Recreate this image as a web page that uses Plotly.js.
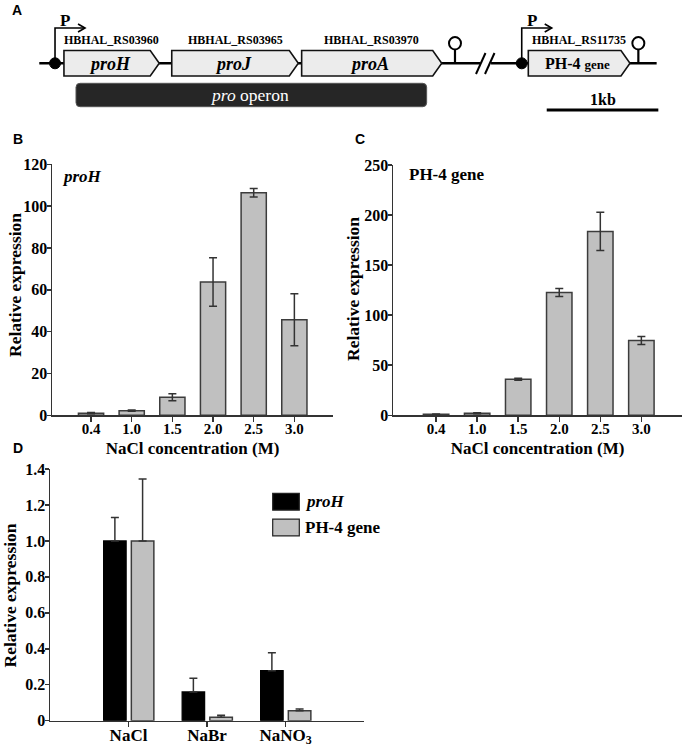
<!DOCTYPE html>
<html><head><meta charset="utf-8">
<script src="https://cdn.plot.ly/plotly-3.0.1.min.js"></script>
<style>html,body{margin:0;padding:0;background:#fff}#chart{width:686px;height:747px}</style>
</head><body><div id="chart"></div>
<script>
// ---------- Data ----------
// Panels B & C: NaCl series
const naclConc = ['0.4', '1.0', '1.5', '2.0', '2.5', '3.0'];
const proHExpr = [1.0, 2.2, 8.6, 63.7, 106.4, 45.7];
const proHErr  = [0.3, 0.3, 1.7, 11.6, 2.0, 12.4];
const ph4Expr  = [1.0, 2.0, 36.0, 122.7, 183.7, 74.7];
const ph4Err   = [0.3, 0.5, 1.0, 4.0, 19.0, 4.0];
// Panel D: different salts
const salts       = ['NaCl', 'NaBr', 'NaNO<sub>3</sub>'];
const seriesNames = ['<i>proH</i>', 'PH-4 gene'];
const saltProH    = [1.0, 0.16, 0.278];
const saltProHErr = [0.13, 0.076, 0.10];
const saltPH4     = [1.0, 0.019, 0.056];
const saltPH4Err  = [0.344, 0.011, 0.009];
const yTitle = 'Relative expression';
const xTitle = 'NaCl concentration (M)';
// Panel A: gene map (kb along the schematic)
const geneNames  = ['<i>proH</i>', '<i>proJ</i>', '<i>proA</i>', 'PH-4 <span style="font-size:13px">gene</span>'];
const geneIds    = ['HBHAL_RS03960', 'HBHAL_RS03965', 'HBHAL_RS03970', 'HBHAL_RS11735'];
const geneStart  = [0.573, 1.539, 2.703, 4.734];
const geneEnd    = [1.427, 2.673, 3.958, 5.645];
const promoters  = [0.493, 4.675];
const terminators = [4.077, 5.720];
const backbone   = [[0.352, 4.301], [4.400, 5.884]];
const operonSpan = [0.681, 3.823];
const scaleBarKb = 1;
const scaleBarStart = 4.899;

// ---------- Helpers ----------
const PX_PER_KB = 111.6;
const px = v => v / PX_PER_KB;
const SERIF = 'Liberation Serif';
const SANS = 'Liberation Sans';
const W = 686, H = 747;
const fx = v => v / W;
const fy = v => 1 - v / H;

// ---------- Panel A shapes ----------
const TRACK_Y = 63.3, BOX_TOP = 50.5, BOX_BOT = 76, TIP = px(9);
const ARROW_Y = 28, ARROW_LEN = px(30);
const shapes = [];
const A = (o) => Object.assign({xref: 'x4', yref: 'y4'}, o);

backbone.forEach(([a, b]) => shapes.push(A({type: 'line', x0: a, x1: b, y0: TRACK_Y, y1: TRACK_Y, line: {color: '#000', width: 2.5}})));
[backbone[0][1] - px(4), backbone[0][1] + px(5)].forEach(x =>
  shapes.push(A({type: 'line', x0: x, y0: 74, x1: x + px(9.5), y1: 53, line: {color: '#000', width: 2}})));

geneStart.forEach((s, i) => {
  const e = geneEnd[i];
  shapes.push(A({type: 'path',
    path: `M${s},${BOX_TOP} L${e - TIP},${BOX_TOP} L${e},${TRACK_Y} L${e - TIP},${BOX_BOT} L${s},${BOX_BOT} Z`,
    fillcolor: '#ececec', line: {color: '#111', width: 1.6}}));
});

promoters.forEach(p => {
  shapes.push(A({type: 'path', path: `M${p},${TRACK_Y} L${p},${ARROW_Y} L${p + ARROW_LEN},${ARROW_Y}`,
    fillcolor: 'rgba(0,0,0,0)', line: {color: '#000', width: 1.6}}));
  shapes.push(A({type: 'path', path: `M${p + ARROW_LEN - px(7)},${ARROW_Y - 4} L${p + ARROW_LEN},${ARROW_Y} L${p + ARROW_LEN - px(7)},${ARROW_Y + 4}`,
    fillcolor: 'rgba(0,0,0,0)', line: {color: '#000', width: 1.6}}));
  shapes.push(A({type: 'circle', x0: p - px(5.5), x1: p + px(5.5), y0: TRACK_Y - 5.5, y1: TRACK_Y + 5.5,
    fillcolor: '#000', line: {color: '#000', width: 1}}));
});

terminators.forEach(t => {
  shapes.push(A({type: 'line', x0: t, x1: t, y0: TRACK_Y, y1: 49.5, line: {color: '#000', width: 2.2}}));
  shapes.push(A({type: 'circle', x0: t - px(6), x1: t + px(6), y0: 37, y1: 49.5, fillcolor: '#fff', line: {color: '#000', width: 2}}));
});

(function () {
  const x0 = operonSpan[0], x1 = operonSpan[1], y0 = 83.3, y1 = 106.7, r = 4, rx = px(4);
  shapes.push(A({type: 'path',
    path: `M${x0 + rx},${y0} L${x1 - rx},${y0} Q${x1},${y0} ${x1},${y0 + r} L${x1},${y1 - r} Q${x1},${y1} ${x1 - rx},${y1} L${x0 + rx},${y1} Q${x0},${y1} ${x0},${y1 - r} L${x0},${y0 + r} Q${x0},${y0} ${x0 + rx},${y0} Z`,
    fillcolor: '#262626', line: {color: '#555', width: 1}}));
})();

shapes.push(A({type: 'line', x0: scaleBarStart, x1: scaleBarStart + scaleBarKb, y0: 110, y1: 110, line: {color: '#000', width: 3}}));

// ---------- Panel D legend (drawn boxes) ----------
const legendColors = ['#000000', '#c0c0c0'];
const legendRows = [501.7, 527.5];
legendRows.forEach((yc, i) => {
  shapes.push({type: 'rect', xref: 'paper', yref: 'paper', x0: fx(272.7), x1: fx(299.3), y0: fy(yc - 8.4), y1: fy(yc + 8.4),
    fillcolor: legendColors[i], line: {color: '#222', width: 1.2}});
});

// ---------- Annotations ----------
const annotations = [];
const letter = (t, x, y) => annotations.push({text: t, xref: 'paper', yref: 'paper', x: fx(x), y: fy(y), showarrow: false,
  xanchor: 'center', yanchor: 'middle', font: {family: SANS, size: 14, color: '#000', weight: 'bold'}});
letter('A', 17, 10.5); letter('B', 18, 139); letter('C', 360, 139); letter('D', 18, 448);

promoters.forEach(p => annotations.push({text: 'P', xref: 'x4', yref: 'y4', x: p + px(10), y: 20, showarrow: false,
  font: {family: SERIF, size: 17, color: '#000', weight: 'bold'}}));
geneIds.forEach((g, i) => annotations.push({text: g, xref: 'x4', yref: 'y4', x: (geneStart[i] + geneEnd[i]) / 2, y: 39.5,
  showarrow: false, font: {family: SERIF, size: 12, color: '#000', weight: 'bold'}}));
geneNames.forEach((g, i) => annotations.push({text: g, xref: 'x4', yref: 'y4', x: (geneStart[i] + geneEnd[i]) / 2 - px(2), y: TRACK_Y + 0.5,
  showarrow: false, font: {family: SERIF, size: i === 3 ? 16 : 18, color: '#000', weight: 'bold'}}));
annotations.push({text: '<i>pro</i> operon', xref: 'x4', yref: 'y4', x: (operonSpan[0] + operonSpan[1]) / 2 - px(2), y: 95,
  showarrow: false, font: {family: SERIF, size: 17.5, color: '#fff'}});
annotations.push({text: scaleBarKb + 'kb', xref: 'x4', yref: 'y4', x: scaleBarStart + scaleBarKb / 2, y: 99,
  showarrow: false, font: {family: SERIF, size: 16, color: '#000', weight: 'bold'}});

annotations.push({text: '<i>proH</i>', xref: 'paper', yref: 'paper', x: fx(60), y: fy(176), xanchor: 'left', yanchor: 'middle',
  showarrow: false, font: {family: SERIF, size: 17, color: '#000', weight: 'bold'}});
annotations.push({text: 'PH-4 gene', xref: 'paper', yref: 'paper', x: fx(407), y: fy(174), xanchor: 'left', yanchor: 'middle',
  showarrow: false, font: {family: SERIF, size: 17, color: '#000', weight: 'bold'}});
seriesNames.forEach((n, i) => annotations.push({text: n, xref: 'paper', yref: 'paper', x: fx(303), y: fy(legendRows[i]),
  xanchor: 'left', yanchor: 'middle', showarrow: false, font: {family: SERIF, size: 17, color: '#000', weight: 'bold'}}));

// y-axis titles (placed as rotated text beside each axis)
const titleFont = {family: SERIF, size: 17.5, color: '#000', weight: 'bold'};
[[15, 285], [353, 289], [9.5, 596]].forEach(([x, y]) => annotations.push({text: yTitle, textangle: -90,
  xref: 'paper', yref: 'paper', x: fx(x), y: fy(y), xanchor: 'center', yanchor: 'middle', showarrow: false, font: titleFont}));

// ---------- Traces ----------
const barFill = '#c0c0c0', barLine = '#3c3c3c';
const errStyle = {color: '#333', thickness: 1.5, width: 4};
const traces = [
  {type: 'bar', x: naclConc, y: proHExpr, xaxis: 'x', yaxis: 'y', showlegend: false,
   marker: {color: barFill, line: {color: barLine, width: 1.5}},
   error_y: Object.assign({type: 'data', array: proHErr, visible: true}, errStyle)},
  {type: 'bar', x: naclConc, y: ph4Expr, xaxis: 'x2', yaxis: 'y2', showlegend: false,
   marker: {color: barFill, line: {color: barLine, width: 1.5}},
   error_y: Object.assign({type: 'data', array: ph4Err, visible: true}, errStyle)},
  {type: 'bar', name: seriesNames[0], x: salts, y: saltProH, xaxis: 'x3', yaxis: 'y3', showlegend: false,
   width: 0.287, offset: -0.317,
   marker: {color: legendColors[0], line: {color: '#000', width: 1.2}},
   error_y: Object.assign({type: 'data', symmetric: false, array: saltProHErr, arrayminus: saltProHErr.map(() => 0), visible: true}, errStyle)},
  {type: 'bar', name: seriesNames[1], x: salts, y: saltPH4, xaxis: 'x3', yaxis: 'y3', showlegend: false,
   width: 0.287, offset: 0.036,
   marker: {color: legendColors[1], line: {color: barLine, width: 1.5}},
   error_y: Object.assign({type: 'data', symmetric: false, array: saltPH4Err, arrayminus: saltPH4Err.map(() => 0), visible: true}, errStyle)}
];

// ---------- Layout ----------
const xTickFont = {family: SERIF, size: 15, color: '#000', weight: 'bold'};
const yTickFont = {family: SERIF, size: 16, color: '#000', weight: 'bold'};
const xTitleFont = {family: SERIF, size: 17, color: '#000', weight: 'bold'};
const axisBase = {showline: true, linecolor: '#333', linewidth: 1.5, ticks: 'outside', tickcolor: '#333', tickwidth: 1.5,
  showgrid: false, zeroline: false, automargin: false, fixedrange: true};
const xBase = Object.assign({}, axisBase, {type: 'category', ticklen: 5, ticklabelstandoff: -6, tickfont: xTickFont});
const yBase = Object.assign({}, axisBase, {ticklen: 4, ticklabelstandoff: -4, tickfont: yTickFont});

const layout = {
  width: W, height: H, margin: {l: 0, r: 0, t: 0, b: 0}, paper_bgcolor: '#fff', plot_bgcolor: 'rgba(0,0,0,0)',
  showlegend: false, bargap: 0.38,
  xaxis: Object.assign({}, xBase, {domain: [fx(52), fx(333)], anchor: 'y', range: [-0.96, 5.95],
    title: {text: xTitle, font: xTitleFont, standoff: 6}}),
  yaxis: Object.assign({}, yBase, {domain: [fy(415.3), fy(164.3)], anchor: 'x', range: [0, 120], dtick: 20}),
  xaxis2: Object.assign({}, xBase, {domain: [fx(393), fx(682)], anchor: 'y2', range: [-1.05, 5.99],
    title: {text: xTitle, font: xTitleFont, standoff: 6}}),
  yaxis2: Object.assign({}, yBase, {domain: [fy(415.3), fy(165)], anchor: 'x2', range: [0, 250], dtick: 50}),
  xaxis3: Object.assign({}, xBase, {domain: [fx(50), fx(364)], anchor: 'y3', range: [-1.0, 3.0], ticklabelstandoff: -7,
    tickfont: Object.assign({}, xTickFont, {size: 17})}),
  yaxis3: Object.assign({}, yBase, {domain: [fy(720.7), fy(469)], anchor: 'x3', range: [0, 1.4],
    tickvals: [0, 0.2, 0.4, 0.6, 0.8, 1.0, 1.2, 1.4], ticktext: ['0', '0.2', '0.4', '0.6', '0.8', '1.0', '1.2', '1.4']}),
  xaxis4: {domain: [0, 1], anchor: 'y4', range: [0, W / PX_PER_KB], visible: false, fixedrange: true},
  yaxis4: {domain: [fy(125), 1], anchor: 'x4', range: [125, 0], visible: false, fixedrange: true},
  shapes: shapes,
  annotations: annotations
};

Plotly.newPlot('chart', traces, layout, {staticPlot: true, displayModeBar: false});
</script>
</body></html>
